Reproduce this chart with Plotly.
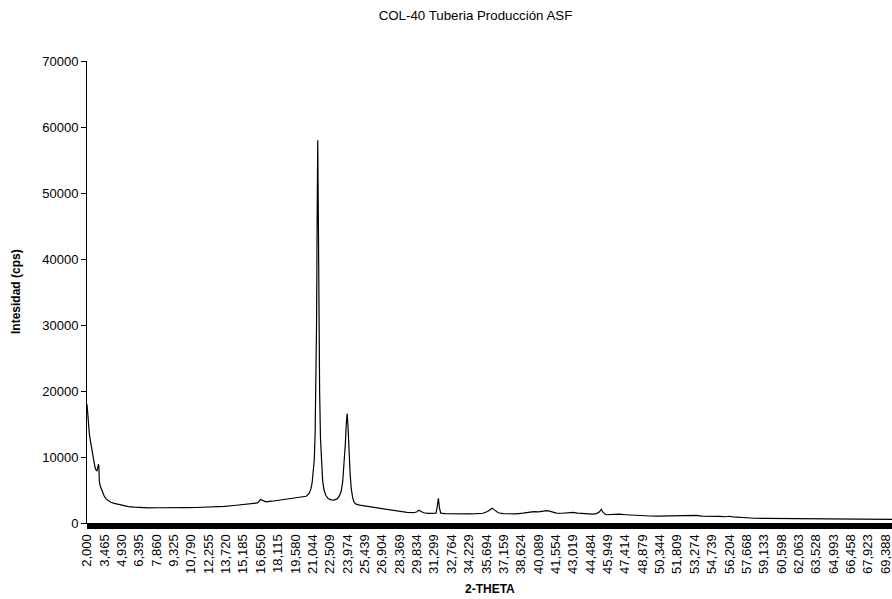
import plotly.graph_objects as go

# Diffractogram: 2-theta (degrees) vs intensity (cps)
two_theta = [
    2.00, 2.06, 2.12, 2.20, 2.30, 2.42, 2.55, 2.68, 2.76, 2.84, 2.90, 2.96, 3.00, 3.04,
    3.12, 3.20, 3.30, 3.45, 3.60, 3.80, 4.00, 4.30, 4.70, 5.10, 5.50, 6.00, 6.60, 7.20,
    8.00, 8.80, 9.60, 10.40, 11.20, 12.00, 12.80, 13.60, 14.40, 15.20, 15.90, 16.40,
    16.65, 16.80, 17.10, 17.60, 18.20, 18.80, 19.30, 19.80, 20.20, 20.50, 20.75, 20.90,
    21.00, 21.10, 21.18, 21.25, 21.31, 21.37, 21.42, 21.47, 21.52, 21.57, 21.63, 21.70,
    21.78, 21.88, 22.00, 22.15, 22.35, 22.60, 22.85, 23.10, 23.30, 23.45, 23.58, 23.70,
    23.80, 23.88, 23.95, 24.02, 24.10, 24.20, 24.30, 24.42, 24.55, 24.70, 25.00, 25.50,
    26.00, 26.60, 27.20, 27.80, 28.40, 29.00, 29.60, 29.85, 30.00, 30.15, 30.40, 30.80,
    31.20, 31.45, 31.55, 31.65, 31.75, 31.85, 32.20, 32.80, 33.50, 34.20, 34.90, 35.40,
    35.80, 36.05, 36.20, 36.40, 36.70, 37.10, 37.60, 38.20, 38.80, 39.30, 39.70, 40.10,
    40.50, 40.80, 41.10, 41.60, 42.10, 42.60, 43.00, 43.40, 43.90, 44.30, 44.70, 45.00,
    45.25, 45.40, 45.55, 45.80, 46.30, 46.90, 47.50, 48.20, 48.90, 49.50, 50.20, 51.00,
    51.80, 52.40, 52.90, 53.40, 53.90, 54.50, 54.90, 55.40, 55.90, 56.20, 56.50, 57.00,
    57.60, 58.30, 59.20, 60.20, 61.20, 62.30, 63.50, 64.70, 65.90, 67.10, 68.30, 69.50,
    69.93,
]
intensity = [
    18000, 16200, 14600, 13500, 12300, 10900, 9600, 8400, 8000, 7900, 8300, 8900, 8600, 6300,
    5600, 5200, 4800, 4100, 3650, 3350, 3150, 2980, 2800, 2600, 2470, 2400, 2330, 2300,
    2310, 2290, 2320, 2330, 2350, 2380, 2430, 2520, 2650, 2780, 2900, 3050,
    3550, 3400, 3200, 3300, 3450, 3600, 3700, 3800, 3900, 4050, 4500, 5200,
    6100, 7600, 9600, 13500, 19500, 30000, 46000, 58000, 47000, 32000, 20000, 13000,
    9200, 6500, 5000, 4200, 3700, 3500, 3480, 3650, 4100, 4800, 6300, 8800,
    12000, 15000, 16600, 14800, 11000, 7600, 5200, 3800, 3100, 2850, 2700, 2550,
    2420, 2280, 2100, 1950, 1750, 1600, 1560, 1700, 1950, 1800, 1550, 1470,
    1450, 1500, 2400, 3750, 2200, 1500, 1420, 1380, 1390, 1380, 1420, 1480,
    1750, 2100, 2250, 1950, 1550, 1420, 1390, 1380, 1500, 1650, 1720, 1680,
    1750, 1880, 1750, 1500, 1480, 1580, 1620, 1500, 1400, 1380, 1350, 1420,
    1700, 2080, 1600, 1250, 1280, 1330, 1250, 1150, 1100, 1060, 1050, 1080,
    1150, 1200, 1230, 1150, 1050, 1050, 1080, 1000, 950, 1020, 920, 850,
    760, 720, 700, 680, 650, 620, 600, 590, 580, 570, 560, 555,
    550,
]

# Category labels shown along the 2-theta axis
x_tick_labels = [
    "2,000", "3,465", "4,930", "6,395", "7,860", "9,325", "10,790", "12,255", "13,720",
    "15,185", "16,650", "18,115", "19,580", "21,044", "22,509", "23,974", "25,439",
    "26,904", "28,369", "29,834", "31,299", "32,764", "34,229", "35,694", "37,159",
    "38,624", "40,089", "41,554", "43,019", "44,484", "45,949", "47,414", "48,879",
    "50,344", "51,809", "53,274", "54,739", "56,204", "57,668", "59,133", "60,598",
    "62,063", "63,528", "64,993", "66,458", "67,923", "69,388",
]
x_tick_values = [float(s.replace(",", ".")) for s in x_tick_labels]
y_tick_values = [0, 10000, 20000, 30000, 40000, 50000, 60000, 70000]

FONT = "Liberation Sans, Arial, sans-serif"

fig = go.Figure()
fig.add_trace(go.Scatter(
    x=two_theta, y=intensity, mode="lines",
    line=dict(color="black", width=1.2),
    showlegend=False, hoverinfo="x+y",
))

fig.update_layout(
    width=892, height=599,
    margin=dict(l=87, r=0, t=61, b=76, autoexpand=False),
    paper_bgcolor="white", plot_bgcolor="white",
    font=dict(family=FONT, size=13, color="black"),
    title=dict(
        text="COL-40 Tuberia Producción ASF",
        font=dict(family=FONT, size=13.3, color="black"),
        xref="container", x=475.5 / 892, xanchor="center",
        yref="container", y=1 - 15 / 599, yanchor="middle",
    ),
    xaxis=dict(
        range=[2, 69.93], showgrid=False, zeroline=False,
        showline=True, linecolor="black", linewidth=1,
        tickmode="array", tickvals=x_tick_values, ticktext=x_tick_labels,
        tickangle=-90, ticks="outside", ticklen=5, tickwidth=1, tickcolor="black",
        tickfont=dict(family=FONT, size=13, color="black"),
        ticklabeloverflow="allow",
        minor=dict(ticks="outside", ticklen=5, tickwidth=1, tickcolor="black",
                   tick0=2, dtick=0.05, showgrid=False),
        automargin=False,
    ),
    yaxis=dict(
        range=[0, 70000], showgrid=False, zeroline=False,
        showline=True, linecolor="black", linewidth=1,
        tickmode="array", tickvals=y_tick_values, tickformat="d",
        ticks="outside", ticklen=5, tickwidth=1, tickcolor="black",
        tickfont=dict(family=FONT, size=13, color="black"),
        automargin=False,
    ),
    annotations=[
        dict(text="<b>Intesidad (cps)</b>", xref="paper", yref="paper",
             x=(16 - 87) / 805, y=0.5, textangle=-90, showarrow=False,
             xanchor="center", yanchor="middle",
             font=dict(family=FONT, size=12, color="black")),
        dict(text="<b>2-THETA</b>", xref="paper", yref="paper",
             x=0.5, y=-(589 - 523) / 462, showarrow=False,
             xanchor="center", yanchor="middle",
             font=dict(family=FONT, size=12, color="black")),
    ],
)

fig.write_html("out.html")
